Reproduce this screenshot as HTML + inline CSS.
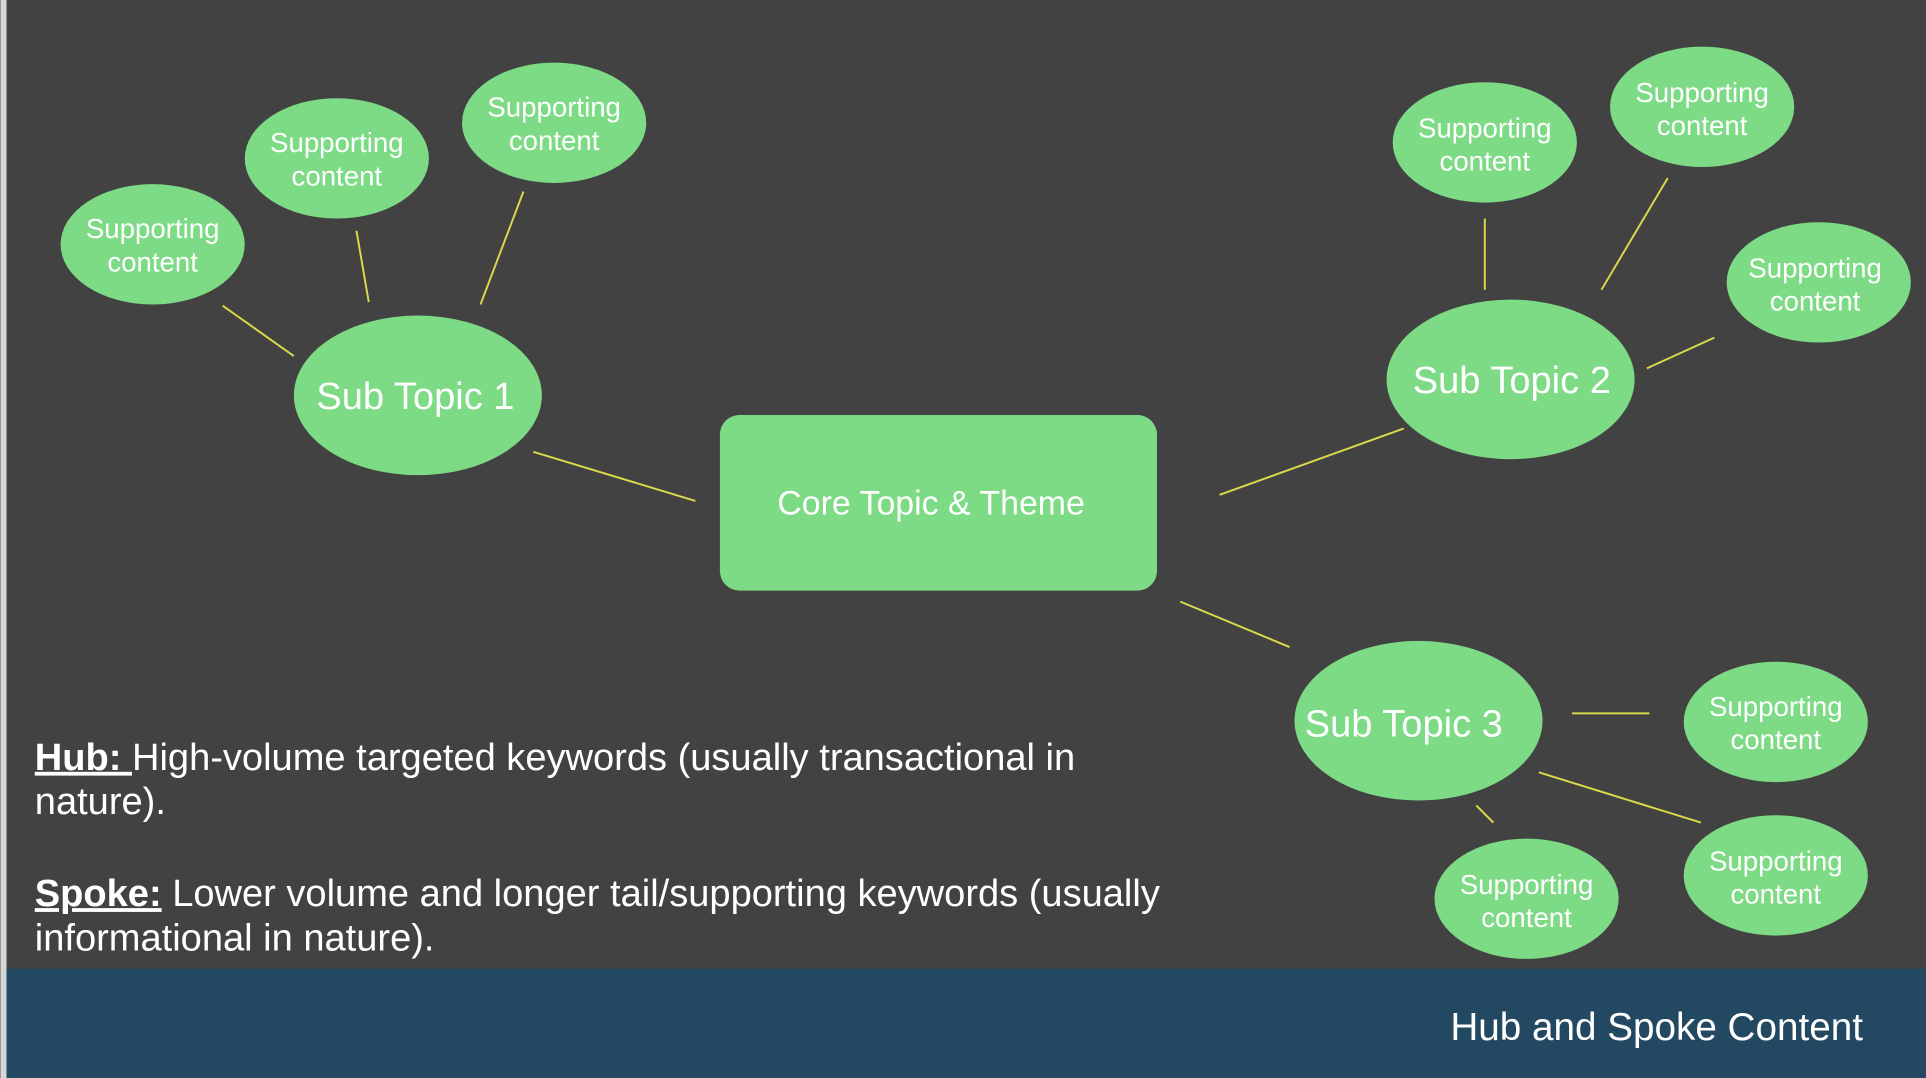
<!DOCTYPE html>
<html><head><meta charset="utf-8"><style>
html,body{margin:0;padding:0;background:#424242;}
svg{display:block;}
text{font-family:"Liberation Sans",sans-serif;fill:#fff;}
</style></head><body>
<svg width="1926" height="1078" viewBox="0 0 1568 878" xmlns="http://www.w3.org/2000/svg">
<rect width="1568" height="878" fill="#424242"/>
<rect x="0" y="0" width="5" height="878" fill="#d6d6d6"/>
<rect x="5" y="789" width="1563" height="89" fill="#234862"/>
<g stroke="#d9d94a" stroke-width="1.6">
<line x1="181" y1="249" x2="239" y2="290"/>
<line x1="290" y1="188" x2="300" y2="246"/>
<line x1="426" y1="156" x2="391" y2="248"/>
<line x1="434" y1="368" x2="566" y2="408"/>
<line x1="993" y1="403" x2="1143" y2="349"/>
<line x1="1209" y1="178" x2="1209" y2="236"/>
<line x1="1358" y1="145" x2="1304" y2="236"/>
<line x1="1396" y1="275" x2="1341" y2="300"/>
<line x1="961" y1="490" x2="1050" y2="527"/>
<line x1="1280" y1="581" x2="1343" y2="581"/>
<line x1="1253" y1="629" x2="1385" y2="670"/>
<line x1="1202" y1="656" x2="1216" y2="670"/>
</g>
<g fill="#7dda85">
<rect x="586" y="338" width="356" height="143" rx="16"/>
<ellipse cx="340" cy="322" rx="101" ry="65"/>
<ellipse cx="1230" cy="309" rx="101" ry="65"/>
<ellipse cx="1155" cy="587" rx="101" ry="65"/>
<ellipse cx="124" cy="199" rx="75" ry="49"/>
<ellipse cx="274" cy="129" rx="75" ry="49"/>
<ellipse cx="451" cy="100" rx="75" ry="49"/>
<ellipse cx="1209" cy="116" rx="75" ry="49"/>
<ellipse cx="1386" cy="87" rx="75" ry="49"/>
<ellipse cx="1481" cy="230" rx="75" ry="49"/>
<ellipse cx="1446" cy="588" rx="75" ry="49"/>
<ellipse cx="1446" cy="713" rx="75" ry="49"/>
<ellipse cx="1243" cy="732" rx="75" ry="49"/>
</g>
<g text-anchor="middle">
<text x="758" y="419" font-size="27.6">Core Topic &amp; Theme</text>
<text x="338" y="333" font-size="31">Sub Topic 1</text>
<text x="1231" y="320" font-size="31">Sub Topic 2</text>
<text x="1143" y="600" font-size="31">Sub Topic 3</text>
<g font-size="22.5">
<text x="124" y="194">Supporting</text><text x="124" y="221">content</text>
<text x="274" y="124">Supporting</text><text x="274" y="151">content</text>
<text x="451" y="95">Supporting</text><text x="451" y="122">content</text>
<text x="1209" y="112">Supporting</text><text x="1209" y="139">content</text>
<text x="1386" y="83">Supporting</text><text x="1386" y="110">content</text>
<text x="1478" y="226">Supporting</text><text x="1478" y="253">content</text>
<text x="1446" y="583">Supporting</text><text x="1446" y="610">content</text>
<text x="1446" y="709">Supporting</text><text x="1446" y="736">content</text>
<text x="1243" y="728">Supporting</text><text x="1243" y="755">content</text>
</g>
</g>
<g font-size="31">
<text x="28" y="627"><tspan font-weight="bold" text-decoration="underline">Hub: </tspan>High-volume targeted keywords (usually transactional in</text>
<text x="28" y="663">nature).</text>
<text x="28" y="738"><tspan font-weight="bold" text-decoration="underline">Spoke:</tspan> Lower volume and longer tail/supporting keywords (usually</text>
<text x="28" y="774">informational in nature).</text>
</g>
<text x="1517" y="847" font-size="31.5" text-anchor="end">Hub and Spoke Content</text>
</svg>
</body></html>
